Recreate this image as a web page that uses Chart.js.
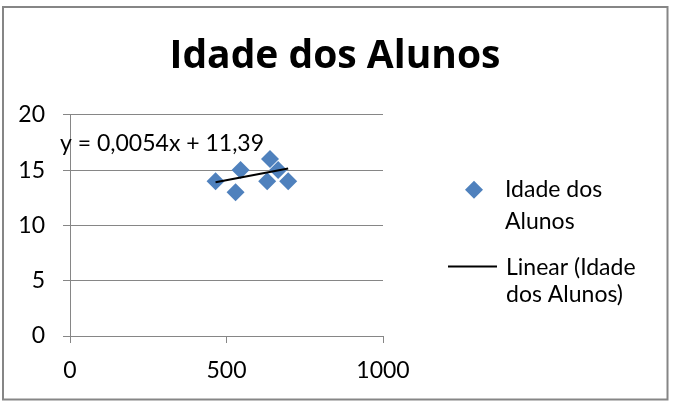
<!DOCTYPE html>
<html>
<head>
<meta charset="utf-8">
<script src="https://cdn.jsdelivr.net/npm/chart.js@4.4.1/dist/chart.umd.min.js"></script>
<style>
    html, body { margin: 0; padding: 0; background: #fff; }
    canvas { display: block; }
</style>
</head>
<body>
<canvas id="graficoIdades" width="681" height="404"></canvas>
<script>
// dados
const alunosX = [465, 529, 545, 639, 630, 665, 697];
const alunosIdade = [14, 13, 15, 16, 14, 15, 14];
const tendenciaX = [465, 697];
const tendenciaY = [13.9, 15.15];
const ticksX = [0, 500, 1000];
const ticksY = [0, 5, 10, 15, 20];
const titulo = 'Idade dos Alunos';
const equacao = 'y = 0,0054x + 11,39';
const legendaTextos = [['Idade dos', 'Alunos'], ['Linear (Idade', 'dos Alunos)']];

const azul = '#4f81bd';
const cinza = '#868686';
const fonte = 'Lato';

// borda, equação da tendência e legenda
const extrasPlugin = {
    id: 'extras',
    afterDraw(chart) {
        const ctx = chart.ctx;
        const area = chart.chartArea;
        ctx.save();

        ctx.strokeStyle = cinza;
        ctx.lineWidth = 2;
        ctx.strokeRect(3, 7, 664.5, 392.5);

        ctx.fillStyle = '#000';
        ctx.font = '23px ' + fonte;
        ctx.textBaseline = 'alphabetic';
        ctx.textAlign = 'left';
        ctx.fillText(equacao, area.left - 10, area.top + 36);

        // item 1: marcador losango
        const pontos = chart.data.datasets[0];
        ctx.fillStyle = pontos.backgroundColor;
        ctx.beginPath();
        ctx.moveTo(474 - 9, 189.7);
        ctx.lineTo(474, 189.7 - 9);
        ctx.lineTo(474 + 9, 189.7);
        ctx.lineTo(474, 189.7 + 9);
        ctx.closePath();
        ctx.fill();

        // item 2: linha
        const linha = chart.data.datasets[1];
        ctx.strokeStyle = linha.borderColor;
        ctx.lineWidth = linha.borderWidth;
        ctx.beginPath();
        ctx.moveTo(448, 266.5);
        ctx.lineTo(497, 266.5);
        ctx.stroke();

        ctx.fillStyle = '#000';
        ctx.fillText(legendaTextos[0][0], 505, 197);
        ctx.fillText(legendaTextos[0][1], 505, 228.5);
        ctx.fillText(legendaTextos[1][0], 506, 275);
        ctx.fillText(legendaTextos[1][1], 506, 302);
        ctx.restore();
    }
};

const config = {
    type: 'scatter',
    data: {
        datasets: [{
            label: 'Idade dos Alunos',
            data: alunosX.map((x, i) => ({ x: x, y: alunosIdade[i] })),
            backgroundColor: azul,
            borderColor: azul,
            borderWidth: 0,
            pointStyle: 'rectRot',
            pointRadius: 9,
            pointHoverRadius: 9,
            order: 1
        }, {
            type: 'line',
            label: 'Linear (Idade dos Alunos)',
            data: tendenciaX.map((x, i) => ({ x: x, y: tendenciaY[i] })),
            borderColor: '#000',
            borderWidth: 2,
            pointRadius: 0,
            fill: false,
            order: 0
        }]
    },
    options: {
        responsive: false,
        animation: false,
        layout: { padding: { left: 0, right: 11, top: 0, bottom: 0 } },
        plugins: {
            legend: { display: false },
            tooltip: { enabled: false },
            title: {
                display: true,
                text: titulo,
                color: '#000',
                font: { family: 'Open Sans', size: 39, weight: 'bold', lineHeight: 1.2 },
                padding: { top: 33, bottom: 35 }
            }
        },
        scales: {
            x: {
                type: 'linear',
                min: 0,
                max: 1000,
                afterBuildTicks: scale => { scale.ticks = ticksX.map(v => ({ value: v })); },
                afterFit: scale => { scale.height = 68; },
                grid: { drawOnChartArea: false, color: cinza, tickLength: 7 },
                border: { color: cinza, width: 1 },
                ticks: {
                    color: '#000', padding: 14, maxRotation: 0,
                    font: { family: fonte, size: 23 },
                    callback: v => String(v)
                }
            },
            y: {
                min: 0,
                max: 20,
                afterBuildTicks: scale => { scale.ticks = ticksY.map(v => ({ value: v })); },
                afterFit: scale => { scale.width = 70; },
                grid: { color: cinza, tickLength: 7 },
                border: { color: cinza, width: 1 },
                ticks: { color: '#000', padding: 18, font: { family: fonte, size: 23 } }
            },
            // espaço reservado para a legenda à direita
            espacoLegenda: {
                type: 'linear',
                position: 'right',
                display: true,
                min: 0,
                max: 1,
                afterFit: scale => { scale.width = 287; },
                grid: { display: false },
                border: { display: false },
                ticks: { display: false }
            }
        }
    },
    plugins: [extrasPlugin]
};

new Chart(document.getElementById('graficoIdades').getContext('2d'), config);
</script>
</body>
</html>
